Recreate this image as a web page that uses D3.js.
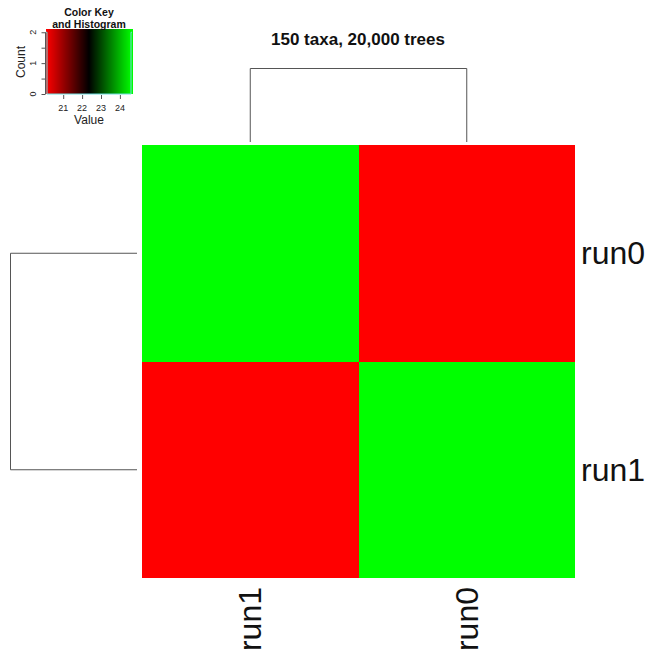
<!DOCTYPE html>
<html>
<head>
<meta charset="utf-8">
<script src="https://cdn.jsdelivr.net/npm/d3@7"></script>
<style>
  body { margin: 0; background: #fff; }
  svg { font-family: "Liberation Sans", Arial, sans-serif; }
</style>
</head>
<body>
<div id="chart"></div>
<script>
// heatmap data
var rowNames = ["run0", "run1"];
var colNames = ["run1", "run0"];
var values = [
  [24.64, 20.09],
  [20.09, 24.64]
];
var keyTicks = [21, 22, 23, 24];
var countTicks = [0, 1, 2];
var title = "150 taxa, 20,000 trees";

var width = 650, height = 652;

var svg = d3.select("#chart").append("svg")
    .attr("width", width)
    .attr("height", height);

svg.append("rect")
    .attr("width", width).attr("height", height)
    .attr("fill", "#fff");

var cells = [];
values.forEach((row, i) => row.forEach((v, j) => cells.push({r: rowNames[i], c: colNames[j], v: v})));
var allVals = cells.map(d => d.v);
var vmin = d3.min(allVals), vmax = d3.max(allVals);

var color = d3.scaleLinear()
    .domain([vmin, (vmin + vmax) / 2, vmax])
    .range(["#ff0000", "#000000", "#00ff00"]);

//-MAIN HEATMAP-----------------------------------------------------//
var xScale = d3.scaleBand().domain(colNames).range([142, 575]);
var yScale = d3.scaleBand().domain(rowNames).range([145, 578]);

svg.append("g").attr("class", "cells")
  .selectAll("rect").data(cells).enter().append("rect")
    .attr("x", d => xScale(d.c))
    .attr("y", d => yScale(d.r))
    .attr("width", xScale.bandwidth())
    .attr("height", yScale.bandwidth())
    .attr("fill", d => color(d.v))
    .attr("shape-rendering", "crispEdges");

// row labels
svg.append("g").selectAll("text").data(rowNames).enter().append("text")
    .attr("x", 581)
    .attr("y", d => yScale(d) + yScale.bandwidth() / 2)
    .attr("dy", "0.35em")
    .attr("font-size", 32)
    .attr("fill", "#111")
    .text(d => d);

// column labels, rotated
svg.append("g").selectAll("text").data(colNames).enter().append("text")
    .attr("transform", d => `translate(${xScale(d) + xScale.bandwidth() / 2},587) rotate(-90)`)
    .attr("dy", "0.35em")
    .attr("text-anchor", "end")
    .attr("font-size", 32)
    .attr("fill", "#111")
    .text(d => d);

// dendrograms
var colTop = 68.5;
var c0 = xScale(colNames[0]) + xScale.bandwidth() / 2,
    c1 = xScale(colNames[1]) + xScale.bandwidth() / 2;
svg.append("path")
    .attr("d", `M${c0},142V${colTop}H${c1}V142`)
    .attr("fill", "none")
    .attr("stroke", "#555")
    .attr("stroke-width", 1);

var rowLeft = 10.5;
var r0 = yScale(rowNames[0]) + yScale.bandwidth() / 2,
    r1 = yScale(rowNames[1]) + yScale.bandwidth() / 2;
svg.append("path")
    .attr("d", `M137,${r0}H${rowLeft}V${r1}H137`)
    .attr("fill", "none")
    .attr("stroke", "#555")
    .attr("stroke-width", 1);

// title
svg.append("text")
    .attr("x", 358)
    .attr("y", 45)
    .attr("text-anchor", "middle")
    .attr("font-size", 17)
    .attr("font-weight", "bold")
    .attr("fill", "#111")
    .text(title);

//-COLOR KEY--------------------------------------------------------//
var keyX = d3.scaleLinear().domain([vmin, vmax]).range([46, 132]);

var nb = 86;
var breaks = d3.range(nb + 1).map(i => vmin + (vmax - vmin) * i / nb);
var key = svg.append("g").attr("class", "key");

// histogram of cell values
var bins = d3.bin().domain([vmin, vmax]).thresholds(breaks.slice(1, -1))(allVals);
var counts = bins.map(b => b.length);
var maxCount = d3.max(counts);
var hy = d3.scaleLinear().domain([0, maxCount / 0.95]).range([94, 29]);

key.selectAll("rect.k").data(d3.pairs(breaks)).enter().append("rect")
    .attr("class", "k")
    .attr("x", d => keyX(d[0]))
    .attr("y", hy.range()[1])
    .attr("width", d => keyX(d[1]) - keyX(d[0]) + 0.6)
    .attr("height", hy.range()[0] - hy.range()[1])
    .attr("fill", d => color((d[0] + d[1]) / 2))
    .attr("shape-rendering", "crispEdges");

var stepPts = breaks.map((b, i) => [keyX(b), hy(counts[Math.min(i, counts.length - 1)])]);
key.append("path")
    .attr("d", d3.line().curve(d3.curveStepAfter)(stepPts))
    .attr("fill", "none")
    .attr("stroke", "#6fdede")
    .attr("stroke-width", 1);

// count axis
var yAx = key.append("g").attr("transform", "translate(45.5,0)")
    .call(d3.axisLeft(hy).tickValues([0, 0.5, 1, 1.5, 2]).tickSize(4).tickFormat(""));
yAx.selectAll("path,line").attr("stroke", "#555");
yAx.select(".domain").attr("d", `M0,${hy(0)}V${hy(2)}`);
key.selectAll("text.ct").data(countTicks).enter().append("text")
    .attr("class", "ct")
    .attr("transform", d => `translate(36,${hy(d)}) rotate(-90)`)
    .attr("text-anchor", "middle")
    .attr("font-size", 9)
    .attr("fill", "#222")
    .text(d => d);

// value axis
var xAx = key.append("g").attr("transform", "translate(0,95)")
    .call(d3.axisBottom(keyX).tickValues(keyTicks).tickSize(4).tickFormat(""));
xAx.selectAll("path,line").attr("stroke", "#555");
xAx.select(".domain").remove();
key.selectAll("text.vt").data(keyTicks).enter().append("text")
    .attr("class", "vt")
    .attr("x", d => keyX(d))
    .attr("y", 111)
    .attr("text-anchor", "middle")
    .attr("font-size", 9)
    .attr("fill", "#222")
    .text(d => d);

key.append("text")
    .attr("x", 89).attr("y", 124)
    .attr("text-anchor", "middle")
    .attr("font-size", 12)
    .attr("fill", "#222")
    .text("Value");
key.append("text")
    .attr("transform", "translate(25,62) rotate(-90)")
    .attr("text-anchor", "middle")
    .attr("font-size", 12)
    .attr("fill", "#222")
    .text("Count");

key.append("text")
    .attr("x", 89).attr("y", 16)
    .attr("text-anchor", "middle")
    .attr("font-size", 10.5)
    .attr("font-weight", "bold")
    .attr("fill", "#111")
    .text("Color Key");
key.append("text")
    .attr("x", 89).attr("y", 27.5)
    .attr("text-anchor", "middle")
    .attr("font-size", 10.5)
    .attr("font-weight", "bold")
    .attr("fill", "#111")
    .text("and Histogram");
</script>
</body>
</html>
